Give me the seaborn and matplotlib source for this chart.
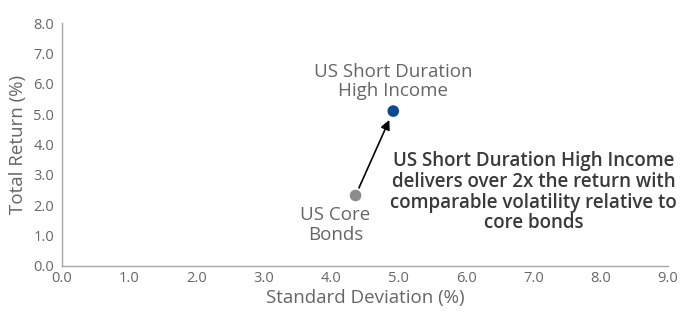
import numpy as np
import pandas as pd
import seaborn as sns
import matplotlib.pyplot as plt

names = ['US Core Bonds', 'US Short Duration High Income']
std_dev = [4.36, 4.92]
total_return = [2.32, 5.10]
point_colors = ['#8c8c8c', '#0a4a8f']
x_ticks = np.arange(0, 10, 1.0)
y_ticks = np.arange(0, 9, 1.0)

df = pd.DataFrame({'name': names, 'std': std_dev, 'ret': total_return})

sns.set_style('white')
plt.rcParams['font.family'] = ['Open Sans', 'DejaVu Sans']

fig = plt.figure(figsize=(6.88, 3.2), dpi=100)
ax = fig.add_axes([0.090, 0.169, 0.881, 0.759])

sns.scatterplot(data=df, x='std', y='ret', hue='name', palette=point_colors,
                s=70, edgecolor='none', legend=False, ax=ax, zorder=3)

ax.set_xlim(0, 9)
ax.set_ylim(0, 8)
ax.set_xticks(x_ticks)
ax.set_yticks(y_ticks)
ax.set_xticklabels([f'{v:.1f}' for v in x_ticks])
ax.set_yticklabels([f'{v:.1f}' for v in y_ticks])

txt = '#666666'
axc = '#a6a6a6'
for s in ['top', 'right']:
    ax.spines[s].set_visible(False)
for s in ['left', 'bottom']:
    ax.spines[s].set_color(axc)
    ax.spines[s].set_linewidth(1.0)
ax.tick_params(axis='x', direction='in', length=5, color=axc, labelcolor=txt, labelsize=10.5, pad=4)
ax.tick_params(axis='y', direction='inout', length=9, color=axc, labelcolor=txt, labelsize=10.5, pad=1)

ax.set_xlabel('Standard Deviation (%)', fontsize=13.5, color=txt, labelpad=2)
ax.set_ylabel('Total Return (%)', fontsize=13.5, color=txt)
ax.yaxis.set_label_coords(-0.058, 0.5)

# point labels
ax.text(4.92, 5.46, 'US Short Duration\nHigh Income', ha='center', va='bottom',
        fontsize=13.5, color=txt, linespacing=1.1)
ax.text(4.06, 1.96, 'US Core\nBonds', ha='center', va='top',
        fontsize=13.5, color=txt, linespacing=1.1)
ax.text(7.0, 2.43, 'US Short Duration High Income\ndelivers over 2x the return with\ncomparable volatility relative to\ncore bonds',
        ha='center', va='center', fontsize=13.5, fontweight='semibold', color='#3a3a3a', linespacing=1.05)

ax.annotate('', xy=(std_dev[1], total_return[1]), xytext=(std_dev[0], total_return[0]),
            arrowprops=dict(arrowstyle='-|>', color='black', lw=1.2, shrinkA=6, shrinkB=7,
                            mutation_scale=14))

fig.savefig('out.png', dpi=100)
